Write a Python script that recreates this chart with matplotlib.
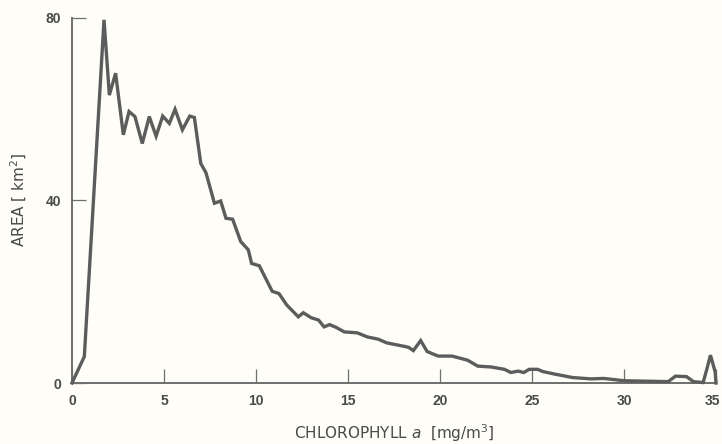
import matplotlib
matplotlib.use("Agg")
import matplotlib.pyplot as plt
import matplotlib.transforms as mtransforms

# Chlorophyll a concentration (mg/m^3) and area (km^2)
chl = [0, 0.67, 1.74, 2.03, 2.37, 2.79, 3.1, 3.42, 3.82, 4.2, 4.57, 4.93, 5.29, 5.6,
       6.0, 6.4, 6.65, 7.0, 7.28, 7.74, 8.08, 8.37, 8.73, 9.17, 9.58, 9.76, 10.18,
       10.88, 11.25, 11.67, 12.3, 12.57, 13.0, 13.4, 13.7, 14.0, 14.35, 14.8, 15.5,
       16.05, 16.65, 17.1, 18.1, 18.3, 18.55, 18.95, 19.3, 19.9, 20.65, 21.5, 22.05,
       22.8, 23.5, 23.85, 24.25, 24.55, 24.85, 25.3, 25.6, 26.3, 27.2, 28.2, 28.9,
       30.0, 32.4, 32.8, 33.4, 33.77, 34.3, 34.5, 34.7, 34.95, 35.0]
area = [0, 5.8, 79.6, 63.1, 67.9, 54.4, 59.5, 58.4, 52.5, 58.4, 54.1, 58.5, 56.9, 60.0,
        55.5, 58.5, 58.2, 48.1, 46.1, 39.4, 39.9, 36.1, 35.9, 31.0, 29.2, 26.2, 25.7,
        20.1, 19.6, 17.1, 14.5, 15.4, 14.3, 13.8, 12.3, 12.8, 12.2, 11.2, 11.0,
        10.1, 9.6, 8.8, 8.0, 7.8, 7.1, 9.3, 6.9, 5.9, 5.9, 5.0, 3.7,
        3.5, 3.0, 2.3, 2.6, 2.3, 3.0, 3.0, 2.5, 1.9, 1.2, 0.9, 1.0,
        0.5, 0.3, 1.5, 1.4, 0.3, 0.1, 3.0, 6.1, 2.5, 0.0]
xticks = [0, 5, 10, 15, 20, 25, 30, 35]
yticks = [0, 40, 80]

bg = "#fefdf7"
axc = "#6e6e6e"
txt = "#4a4a4a"

fig = plt.figure(figsize=(7.22, 4.44), dpi=100, facecolor=bg)
ax = fig.add_axes([72/722, (444-383)/444, (716-72)/722, (383-18)/444])
ax.set_facecolor(bg)

ax.plot(chl, area, color="#5c5c5c", lw=2.4, solid_joinstyle="miter", clip_on=False, zorder=3)

ax.set_xlim(0, 35)
ax.set_ylim(0, 80)
ax.set_xticks(xticks)
ax.set_yticks(yticks)
tick_font = dict(fontsize=10, fontweight="bold", color=txt, family="Liberation Sans")
ax.set_xticklabels([str(t) for t in xticks], **tick_font)
ax.set_yticklabels([str(t) for t in yticks], **tick_font)
ax.tick_params(axis="both", direction="in", length=10, width=0.9, color=axc)
ax.tick_params(axis="x", pad=8)
ax.tick_params(axis="y", pad=8)

# keep the last x tick label inside the figure edge
last = ax.get_xticklabels()[-1]
last.set_transform(last.get_transform() + mtransforms.ScaledTranslation(-4/100, 0, fig.dpi_scale_trans))

for s in ["top", "right"]:
    ax.spines[s].set_visible(False)
for s in ["left", "bottom"]:
    ax.spines[s].set_color(axc)
    ax.spines[s].set_linewidth(1.4)

fig.text(394/722, (444-439)/444, r"CHLOROPHYLL $\mathit{a}$  [mg/m$^3$]",
         fontsize=11, color=txt, ha="center", va="baseline")
fig.text(19/722, (444-200)/444, r"AREA [ km$^2$]", fontsize=11, color=txt,
         ha="center", va="center", rotation=90)

fig.savefig("out.png", dpi=100, facecolor=bg)
